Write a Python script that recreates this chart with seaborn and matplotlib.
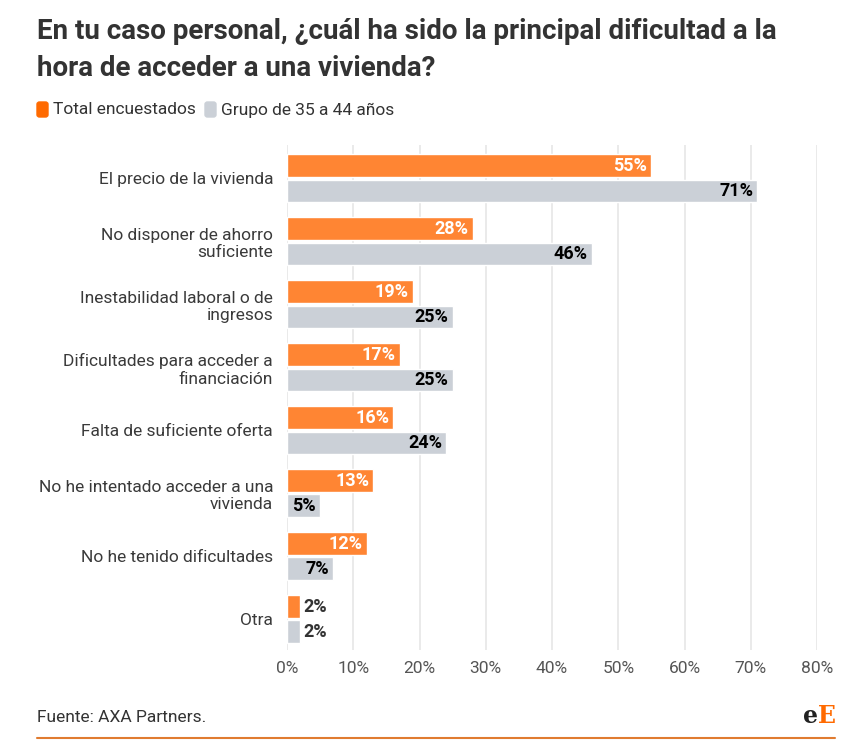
import matplotlib
matplotlib.use("Agg")
import matplotlib.pyplot as plt
import seaborn as sns
import pandas as pd
from matplotlib.patches import FancyBboxPatch

categories = [
    "El precio de la vivienda",
    "No disponer de ahorro\nsuficiente",
    "Inestabilidad laboral o de\ningresos",
    "Dificultades para acceder a\nfinanciación",
    "Falta de suficiente oferta",
    "No he intentado acceder a una\nvivienda",
    "No he tenido dificultades",
    "Otra",
]
series_names = ["Total encuestados", "Grupo de 35 a 44 años"]
total_values = [55, 28, 19, 17, 16, 13, 12, 2]
group_values = [71, 46, 25, 25, 24, 5, 7, 2]
xticks = [0, 10, 20, 30, 40, 50, 60, 70, 80]
xtick_labels = ["0%", "10%", "20%", "30%", "40%", "50%", "60%", "70%", "80%"]

ORANGE = "#FF8533"
GREY = "#CBD0D7"
TXT = "#333333"

df = pd.DataFrame({
    "cat": categories * 2,
    "serie": [series_names[0]] * len(categories) + [series_names[1]] * len(categories),
    "val": total_values + group_values,
})

sns.set_theme(style="white")
plt.rcParams["font.family"] = ["Roboto", "DejaVu Sans"]

fig = plt.figure(figsize=(8.56, 7.54), dpi=100)
ax = fig.add_axes([287 / 856, 1 - 650 / 754, (817 - 287) / 856, (650 - 145) / 754])

sns.barplot(data=df, y="cat", x="val", hue="serie", order=categories,
            hue_order=series_names, palette=[ORANGE, GREY], orient="h",
            width=0.8, gap=0.1, legend=False, ax=ax, saturation=1)

ax.set_xlim(0, 80)
ax.set_ylim(7.49, -0.53)
ax.set_xticks(xticks)
ax.set_xticklabels(xtick_labels)
ax.set_xlabel("")
ax.set_ylabel("")
for s in ax.spines.values():
    s.set_visible(False)
ax.grid(axis="x", color="#E6E6E6", linewidth=1.2)
ax.set_axisbelow(True)
ax.tick_params(axis="x", colors="#555555", labelsize=12.5, length=0, pad=8)
ax.tick_params(axis="y", colors="#555555", labelsize=12.5, length=5, width=0.8,
               direction="out", pad=5)
for t in ax.get_yticklabels():
    t.set_color("#3A3A3A")
    t.set_multialignment("right")
for t in ax.get_xticklabels():
    t.set_color("#555555")
for line in ax.yaxis.get_ticklines():
    line.set_color("#DDDDDD")

# value labels
for cont, vals, col_in in zip(ax.containers, [total_values, group_values], ["white", "black"]):
    for bar, v in zip(cont, vals):
        yc = bar.get_y() + bar.get_height() / 2
        if v >= 5:
            ax.text(v - 0.6, yc, f"{v}%", ha="right", va="center", color=col_in,
                    fontsize=13, fontweight="bold")
        else:
            ax.text(v + 0.5, yc, f"{v}%", ha="left", va="center", color=TXT,
                    fontsize=13, fontweight="bold")

# title
fig.text(37 / 856, 1 - 18 / 754, "En tu caso personal, ¿cuál ha sido la principal dificultad a la\nhora de acceder a una vivienda?",
         ha="left", va="top", fontsize=20, fontweight="bold", color=TXT, linespacing=1.5)

# legend
ly = 1 - 110 / 754
fig.patches.append(FancyBboxPatch((37 / 856, ly - 7 / 754), 11 / 856, 15 / 754,
                                  boxstyle="round,pad=0,rounding_size=0.003",
                                  transform=fig.transFigure, color="#FF6A00", figure=fig))
fig.text(53 / 856, ly, series_names[0], ha="left", va="center", fontsize=12.5, color=TXT)
fig.patches.append(FancyBboxPatch((205 / 856, ly - 7 / 754), 11 / 856, 15 / 754,
                                  boxstyle="round,pad=0,rounding_size=0.003",
                                  transform=fig.transFigure, color=GREY, figure=fig))
fig.text(221 / 856, ly, series_names[1], ha="left", va="center", fontsize=12.5, color=TXT)

# footer
fig.text(37 / 856, 1 - 717 / 754, "Fuente: AXA Partners.", ha="left", va="center",
         fontsize=12.5, color=TXT)
fig.add_artist(plt.Line2D([37 / 856, 835 / 856], [1 - 738 / 754] * 2,
                          transform=fig.transFigure, color="#E07B30", linewidth=1.5))
fig.text(818 / 856, 1 - 716 / 754, "e", ha="right", va="center", fontsize=17,
         fontweight="bold", family="DejaVu Serif", color="#222222")
fig.text(818 / 856, 1 - 716 / 754, "E", ha="left", va="center", fontsize=17,
         fontweight="bold", family="DejaVu Serif", color="#FF6A00")

fig.savefig("out.png", dpi=100)
